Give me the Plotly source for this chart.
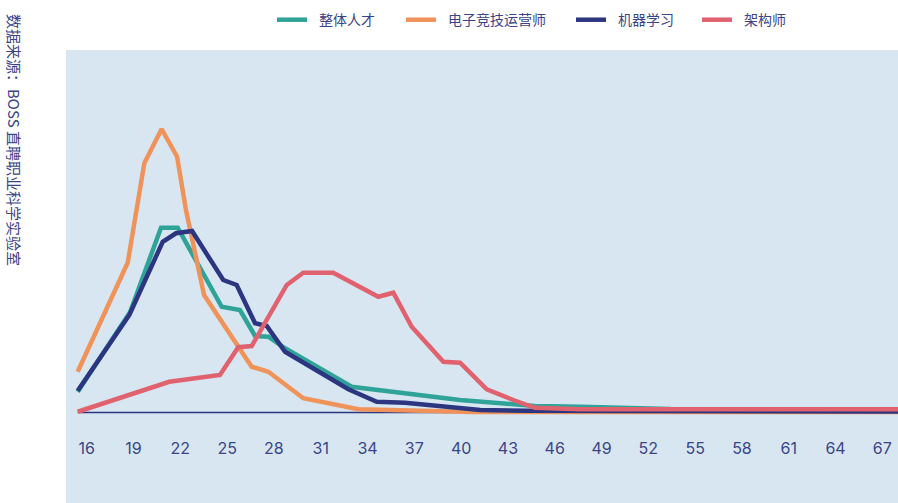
import plotly.graph_objects as go

# ---- data (age, share %) ----
series_names = ["整体人才", "电子竞技运营师", "机器学习", "架构师"]
series_colors = ["#2fa398", "#f0935a", "#2b3580", "#e0626f"]

overall_age = [16, 19.36, 21.34, 22.41, 25.23, 26.40, 27.37, 28.22, 29.29, 33.56, 40.5, 45.3, 48.2, 54.0, 70]
overall_val = [0.83, 4.02, 7.39, 7.39, 4.23, 4.10, 3.06, 3.03, 2.57, 1.03, 0.50, 0.26, 0.23, 0.14, 0.12]

esports_age = [16, 19.21, 20.27, 21.38, 22.37, 22.94, 24.10, 27.15, 28.22, 30.46, 33.99, 40.5, 41.3, 70]
esports_val = [1.63, 6.00, 9.97, 11.34, 10.23, 8.10, 4.70, 1.83, 1.63, 0.57, 0.13, 0.07, 0.02, 0.02]

ml_age = [16, 19.31, 21.45, 22.30, 23.33, 25.33, 26.19, 27.37, 28.12, 29.29, 33.35, 35.17, 36.98, 41.8, 44.78, 70]
ml_val = [0.87, 3.90, 6.83, 7.17, 7.26, 5.30, 5.10, 3.57, 3.46, 2.43, 0.93, 0.43, 0.39, 0.10, 0.07, 0.04]

arch_age = [16, 21.87, 25.12, 26.29, 27.15, 29.40, 30.46, 32.38, 35.27, 36.23, 37.41, 39.44, 40.51, 42.22, 43.92, 45.31, 48.19, 70]
arch_val = [0.03, 1.23, 1.50, 2.61, 2.66, 5.10, 5.59, 5.59, 4.63, 4.79, 3.43, 2.03, 1.99, 0.93, 0.50, 0.19, 0.13, 0.13]

tick_ages = list(range(16, 68, 3))
tick_labels = [str(a) for a in tick_ages]

source_note = "数据来源：BOSS 直聘职业科学实验室"

TEXT = "#3b4487"
BG = "#d8e6f1"
CJK = "Noto Sans CJK SC"

legend_ids = ["legend", "legend2", "legend3", "legend4"]
legend_x = [0.2476, 0.4026, 0.6070, 0.7584]
GAP = "\u2002"  # en space between legend line and label

fig = go.Figure()
for name, color, xs, ys, lid in zip(
    series_names, series_colors,
    [overall_age, esports_age, ml_age, arch_age],
    [overall_val, esports_val, ml_val, arch_val],
    legend_ids,
):
    fig.add_trace(go.Scatter(x=xs, y=ys, mode="lines", name=GAP + name,
                             line=dict(color=color, width=4.5),
                             legend=lid, hoverinfo="skip"))

legend_style = dict(
    orientation="h",
    yanchor="middle", y=1.066,
    xanchor="left",
    font=dict(family=CJK, size=14, color=TEXT),
    bgcolor="rgba(0,0,0,0)",
    itemwidth=30,
)

fig.update_layout(
    width=898, height=503,
    margin=dict(l=66, r=0, t=50, b=0),
    paper_bgcolor="white",
    plot_bgcolor=BG,
    font=dict(family=CJK, color=TEXT, size=14),
    showlegend=True,
    xaxis=dict(
        range=[15.25, 68.58],
        anchor="free", position=0.146,
        showgrid=False, zeroline=False, showline=False,
        ticks="",
        tickmode="array", tickvals=tick_ages, ticktext=tick_labels,
        ticklabelshift=9,
        tickfont=dict(family="Inter, " + CJK, size=16, color=TEXT),
        fixedrange=True,
    ),
    yaxis=dict(
        range=[-3.62, 14.5],
        visible=False,
        fixedrange=True,
    ),
)
for lid, lx in zip(legend_ids, legend_x):
    fig.update_layout({lid: dict(legend_style, x=lx)})

# baseline (value 0)
fig.add_shape(type="line", xref="x", yref="y", x0=16, x1=70, y0=0, y1=0,
              line=dict(color="#2b3580", width=1.5), layer="below")

fig.add_annotation(
    text=source_note, xref="paper", yref="paper",
    x=-66/832 + 15/832, y=1 + (50 - 140) / 453,
    xanchor="center", yanchor="middle",
    textangle=90, showarrow=False,
    font=dict(family=CJK, size=15, color=TEXT),
)

fig.write_html("out.html")
